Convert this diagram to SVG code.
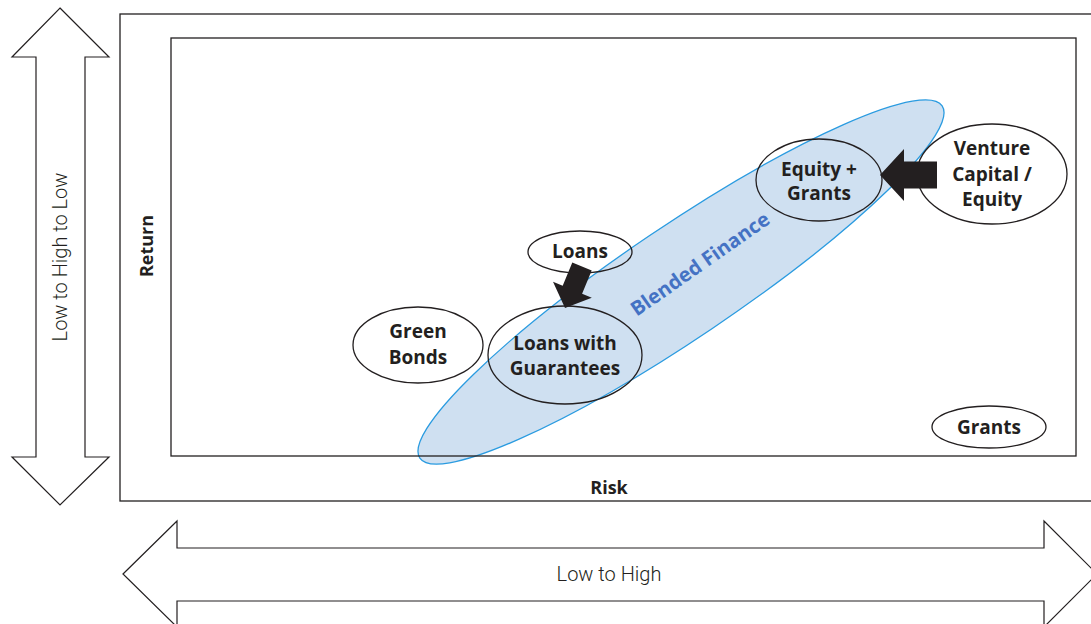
<svg xmlns="http://www.w3.org/2000/svg" width="1091" height="624" viewBox="0 0 1091 624">
<style>
.frame{fill:none;stroke:#231f20;stroke-width:1.3}
.bigarrow{fill:#fff;stroke:#231f20;stroke-width:1.2;stroke-linejoin:miter}
.node{fill:none;stroke:#231f20;stroke-width:1.3}
.lbl{font-family:"Open Sans","Liberation Sans",sans-serif;font-weight:700;font-size:19px;fill:#231f20;text-anchor:middle}
.axis{font-family:"Open Sans","Liberation Sans",sans-serif;font-weight:700;font-size:18px;fill:#231f20;text-anchor:middle}
.light{font-family:Roboto,"Liberation Sans",sans-serif;font-weight:300;font-size:20px;fill:#231f20;text-anchor:middle}
.blk{fill:#231f20;stroke:none}
</style>
<rect width="1091" height="624" fill="#fff"/>
<g id="axis-return-arrow">
<polygon class="bigarrow" points="60,8 109,57 85,57 85,457 109,457 60,505 12,457 36,457 36,57 12,57"/>
<text class="light" transform="translate(67,257) rotate(-90)" font-size="21">Low to High to Low</text>
</g>
<g id="axis-risk-arrow">
<polygon class="bigarrow" points="123,574 177,521 177,548 1044,548 1044,521 1097,574 1044,627 1044,601 177,601 177,627"/>
<text class="light" x="609" y="581">Low to High</text>
</g>
<g id="blended-finance">
<ellipse cx="681" cy="282" rx="315" ry="56" transform="rotate(-34 681 282)" fill="#cfe0f1" stroke="#2a9be0" stroke-width="1.3"/>
<text transform="translate(700,264) rotate(-35)" y="7" text-anchor="middle" font-family="'Open Sans','Liberation Sans',sans-serif" font-weight="700" font-size="20" fill="#4472c4">Blended Finance</text>
</g>
<g id="frames">
<rect class="frame" x="120" y="14" width="1000" height="487"/>
<rect class="frame" x="171" y="38" width="905" height="418"/>
<text class="axis" transform="translate(153,246) rotate(-90)">Return</text>
<text class="axis" x="609" y="494" font-size="19">Risk</text>
</g>
<g id="node-green-bonds">
<ellipse class="node" cx="418" cy="345" rx="65" ry="38"/>
<text class="lbl" x="418" y="338">Green</text>
<text class="lbl" x="418" y="364">Bonds</text>
</g>
<g id="node-loans">
<ellipse class="node" cx="580" cy="252" rx="52" ry="21"/>
<text class="lbl" x="580" y="258">Loans</text>
</g>
<g id="node-loans-guarantees">
<ellipse class="node" cx="565" cy="355" rx="77" ry="49"/>
<text class="lbl" x="565" y="350">Loans with</text>
<text class="lbl" x="565" y="375">Guarantees</text>
</g>
<g id="node-equity-grants">
<ellipse class="node" cx="819" cy="180" rx="63" ry="41"/>
<text class="lbl" x="819" y="176">Equity +</text>
<text class="lbl" x="819" y="200">Grants</text>
</g>
<g id="node-venture">
<ellipse class="node" cx="992" cy="174" rx="75" ry="50"/>
<text class="lbl" x="992" y="155">Venture</text>
<text class="lbl" x="992" y="181">Capital /</text>
<text class="lbl" x="992" y="206">Equity</text>
</g>
<g id="node-grants">
<ellipse class="node" cx="989" cy="427" rx="57" ry="21"/>
<text class="lbl" x="989" y="434">Grants</text>
</g>
<g id="connectors">
<polygon class="blk" points="572.3,262.5 591.7,270.5 582.1,293.8 591.8,297.8 565,308 553,281.8 562.7,285.8"/>
<polygon class="blk" points="937,161.5 904,161.5 904,149 880,175 904,201 904,188.5 937,188.5"/>
</g>
</svg>
